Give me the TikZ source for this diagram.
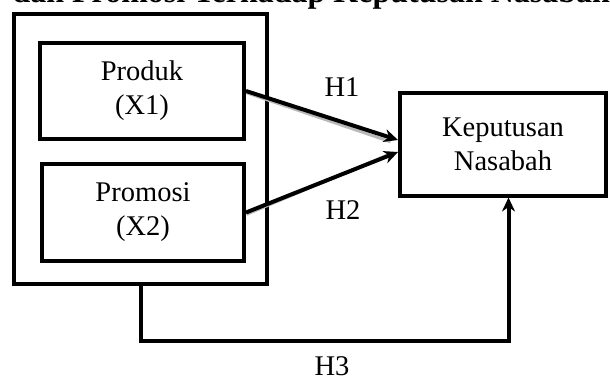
\documentclass[tikz,border=0pt]{standalone}
\usepackage{fontspec}
\setmainfont{Liberation Serif}
\usetikzlibrary{arrows.meta,calc}

\begin{document}
\begin{tikzpicture}[x=1pt,y=1pt,
    box/.style={draw, line width=4pt, align=center, inner sep=0pt,
      font=\fontsize{28.5}{34}\selectfont},
    arr/.style={line width=4pt, -{Stealth[length=14pt,width=13pt]}},
    shade/.style={gray!55, line width=3pt, transform canvas={shift={(0.6,-1.8)}}},
    lbl/.style={font=\fontsize{28.5}{34}\selectfont}]

	\useasboundingbox (0,0) rectangle (610,376);
	\clip (0,0) rectangle (610,376);

	% title, cut by the top edge
	\node[anchor=base west, font=\fontsize{32}{36}\selectfont\bfseries] (title)
	  at (9,373.5) {dan Promosi Terhadap Keputusan Nasabah};

	% boxes
	\node[box, minimum width=253, minimum height=270] (outer) at (140.5,227) {};
	\node[box, minimum width=204, minimum height=96] (produk) at (142,285) {Produk\\(X1)};
	\node[box, minimum width=202, minimum height=97] (promosi) at (143,163.5) {Promosi\\(X2)};
	\node[box, minimum width=206, minimum height=103] (keputusan) at (503,232) {Keputusan\\Nasabah};

	% H1, H2
	\draw[shade] (produk.east) -- ($(keputusan.west)+(-8,4)$);
	\draw[shade] (promosi.east) -- ($(keputusan.west)+(-8,-8)$);
	\draw[arr] (produk.east) -- ($(keputusan.west)+(0,4)$);
	\draw[arr] (promosi.east) -- ($(keputusan.west)+(0,-8)$);

	% H3
	\coordinate (turn) at (508.5,35);
	\draw[arr] (outer.south) |- (turn) -- (turn |- keputusan.south);

	\node[lbl] (h1) at (342,289) {H1};
	\node[lbl] (h2) at (343,166) {H2};
	\node[lbl] (h3) at (332,10) {H3};
\end{tikzpicture}
\end{document}
